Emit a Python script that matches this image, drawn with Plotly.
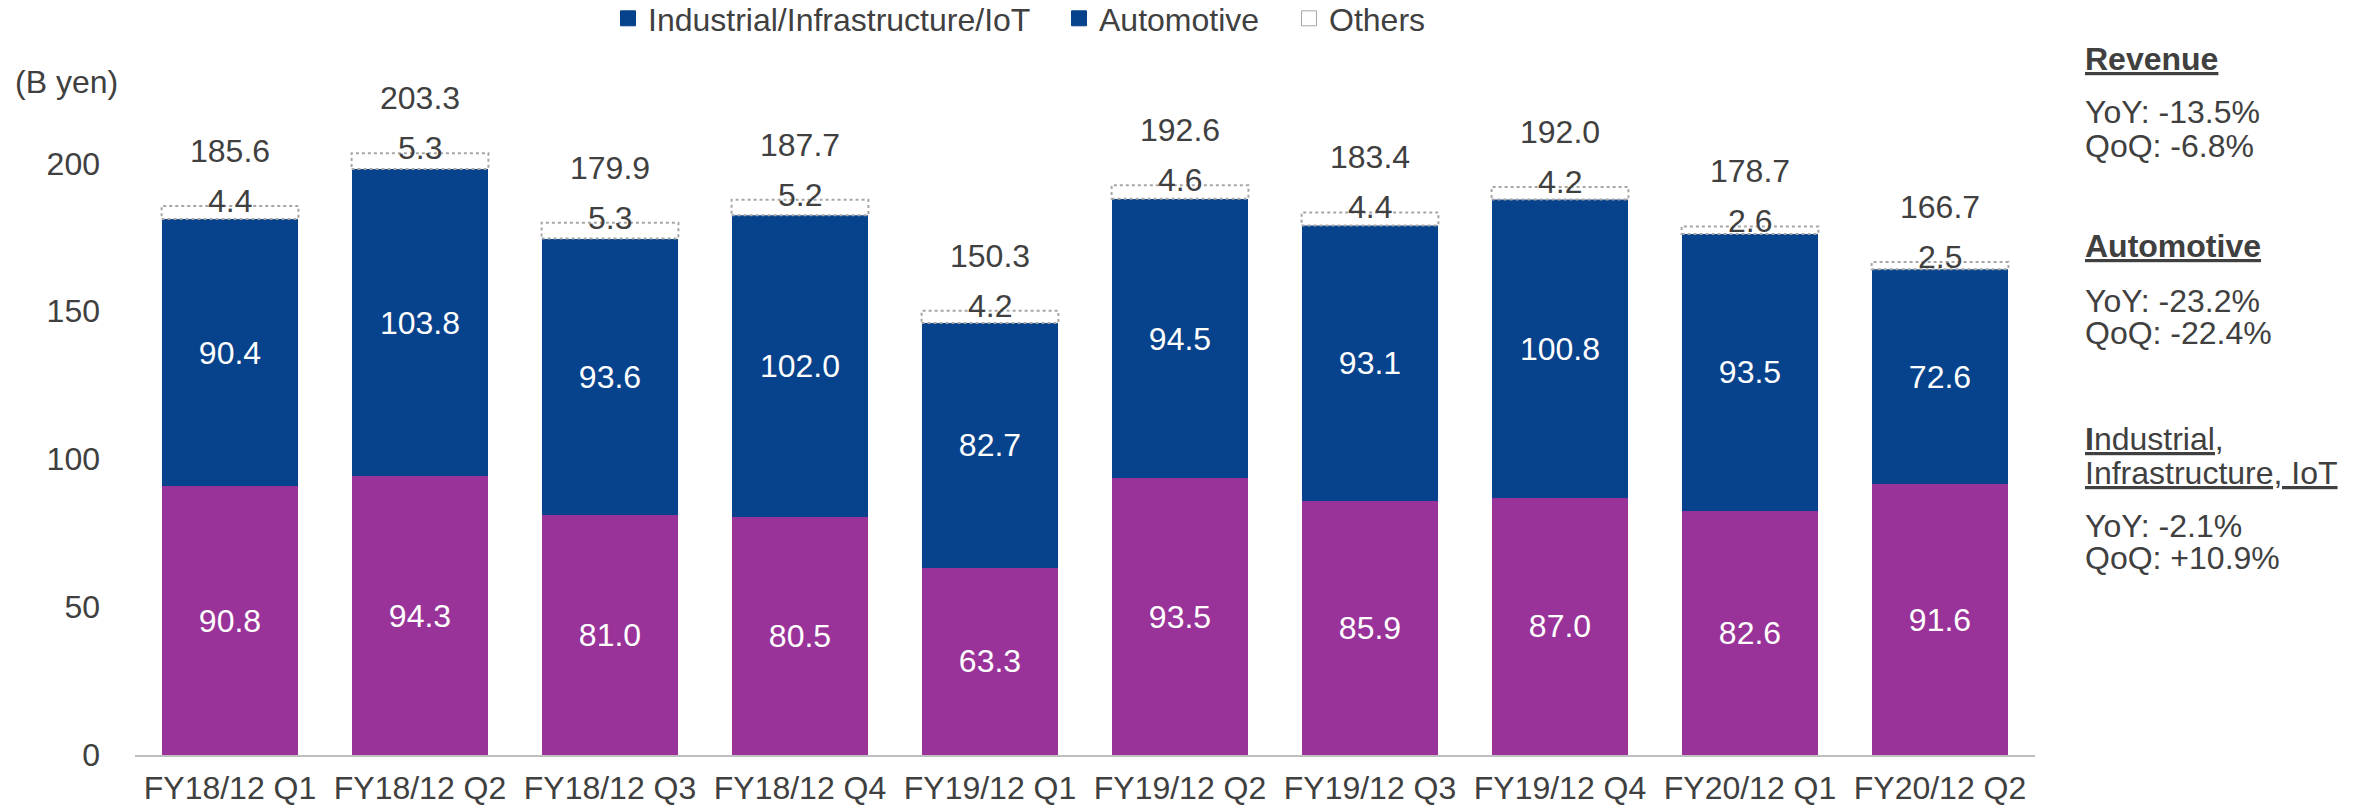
import plotly.graph_objs as go

categories = ["FY18/12 Q1", "FY18/12 Q2", "FY18/12 Q3", "FY18/12 Q4", "FY19/12 Q1",
              "FY19/12 Q2", "FY19/12 Q3", "FY19/12 Q4", "FY20/12 Q1", "FY20/12 Q2"]
industrial = [90.8, 94.3, 81.0, 80.5, 63.3, 93.5, 85.9, 87.0, 82.6, 91.6]
automotive = [90.4, 103.8, 93.6, 102.0, 82.7, 94.5, 93.1, 100.8, 93.5, 72.6]
others = [4.4, 5.3, 5.3, 5.2, 4.2, 4.6, 4.4, 4.2, 2.6, 2.5]
totals = [185.6, 203.3, 179.9, 187.7, 150.3, 192.6, 183.4, 192.0, 178.7, 166.7]

side_texts = ["<b><u>Revenue</u></b>", "YoY: -13.5%", "QoQ: -6.8%",
              "<b><u>Automotive</u></b>", "YoY: -23.2%", "QoQ: -22.4%",
              "<u><b>I</b>ndustrial,</u>", "<u>Infrastructure, IoT</u>", "YoY: -2.1%", "QoQ: +10.9%"]
side_rows = [59, 112, 146, 246, 301, 333, 439, 473, 526, 558]   # pixel rows of the side notes

PURPLE = "#993399"
BLUE = "#07428C"
GREY_TEXT = "#404040"
FONT = "Liberation Sans, Arial, sans-serif"
FS = 32

# plot area in pixels
W, H = 2364, 809
L, R, T, B = 135, 329, 119, 54
plot_h = H - T - B
plot_w = W - L - R


def py(pix):
    return (H - B - pix) / plot_h


def px(pix):
    return (pix - L) / plot_w


stack_base = [a + b for a, b in zip(industrial, automotive)]

fig = go.Figure().add_trace(
    go.Bar(
        x = categories,
        y = industrial,
        name = "Industrial/Infrastructure/IoT",
        marker = {"color": PURPLE, "line": {"width": 0}},
        texttemplate = "%{y:.1f}",
        textposition = "inside",
        insidetextanchor = "middle",
        textangle = 0,
        textfont = {"color": "white", "size": FS, "family": FONT},
        showlegend = False,
    )
).add_trace(
    go.Bar(
        x = categories,
        y = automotive,
        name = "Automotive",
        marker = {"color": BLUE, "line": {"width": 0}},
        texttemplate = "%{y:.1f}",
        textposition = "inside",
        insidetextanchor = "middle",
        textangle = 0,
        textfont = {"color": "white", "size": FS, "family": FONT},
        showlegend = False,
    )
).add_trace(
    go.Bar(
        x = categories,
        y = others,
        name = "Others",
        marker = {"color": "white", "line": {"width": 0}},
        showlegend = False,
    )
)

# legend-only entries (the source legend shows both segments in blue), one legend each
legend_items = [("Industrial/Infrastructure/IoT", BLUE, BLUE, "legend", 608),
                ("Automotive", BLUE, BLUE, "legend2", 1059),
                ("Others", "white", "#A6A6A6", "legend3", 1289)]
for name, color, line, leg, _ in legend_items:
    fig.add_trace(go.Scatter(x = [None], y = [None], name = name, legend = leg, mode = "markers",
                             marker = {"symbol": "square", "size": 15, "color": color,
                                       "line": {"color": line, "width": 1}}))

# dotted outline of the "Others" segment
for cat, base, oth in zip(categories, stack_base, others):
    fig.add_shape(
        type = "rect", xref = "x", yref = "y",
        x0 = cat, x1 = cat, x0shift = -0.36, x1shift = 0.36,
        y0 = base, y1 = base + oth,
        line = {"color": "#A6A6A6", "width": 2, "dash": "dot"},
        fillcolor = "white", layer = "above",
    )

annotations = []
for cat, tot, base, oth in zip(categories, totals, stack_base, others):
    annotations.append({
        "x": cat, "y": base + oth, "xref": "x", "yref": "y",
        "text": f"{tot:.1f}", "showarrow": False, "yanchor": "middle", "yshift": 55,
        "font": {"size": FS, "color": GREY_TEXT, "family": FONT},
    })
    annotations.append({
        "x": cat, "y": base + oth, "xref": "x", "yref": "y",
        "text": f"{oth:.1f}", "showarrow": False, "yanchor": "middle", "yshift": 5,
        "font": {"size": FS, "color": GREY_TEXT, "family": FONT},
    })

for txt, row in zip(side_texts, side_rows):
    annotations.append({
        "x": px(2083), "y": py(row), "xref": "paper", "yref": "paper",
        "text": txt, "showarrow": False, "xanchor": "left", "yanchor": "middle",
        "font": {"size": FS, "color": GREY_TEXT, "family": FONT},
    })

annotations.append({
    "x": px(13), "y": py(82), "xref": "paper", "yref": "paper",
    "text": "(B yen)", "showarrow": False, "xanchor": "left", "yanchor": "middle",
    "font": {"size": FS, "color": GREY_TEXT, "family": FONT},
})


def legend_box(xpix):
    return {
        "orientation": "h",
        "xref": "paper",
        "yref": "paper",
        "x": px(xpix),
        "xanchor": "left",
        "y": py(-9),
        "yanchor": "top",
        "font": {"size": FS, "color": GREY_TEXT, "family": FONT},
        "itemclick": False,
        "bgcolor": "rgba(0,0,0,0)",
    }


fig.update_layout(
    width = W,
    height = H,
    barmode = "stack",
    bargap = 0.28,
    plot_bgcolor = "white",
    paper_bgcolor = "white",
    font = {"family": FONT, "size": FS, "color": GREY_TEXT},
    margin = {"l": L, "r": R, "t": T, "b": B, "pad": 0, "autoexpand": False},
    xaxis = {
        "showgrid": False,
        "showline": True,
        "linecolor": "#BFBFBF",
        "linewidth": 2,
        "ticks": "",
        "automargin": False,
        "ticklabelstandoff": 4,
        "tickfont": {"size": FS, "color": GREY_TEXT},
    },
    yaxis = {
        "range": [0, 215],
        "tickvals": [0, 50, 100, 150, 200],
        "showgrid": False,
        "zeroline": False,
        "showline": False,
        "ticks": "",
        "automargin": False,
        "ticklabelstandoff": 34,
        "tickfont": {"size": FS, "color": GREY_TEXT},
    },
    showlegend = True,
    legend = legend_box(legend_items[0][4]),
    legend2 = legend_box(legend_items[1][4]),
    legend3 = legend_box(legend_items[2][4]),
    annotations = annotations,
    hovermode = False,
)

fig.write_html("out.html", config = {"displayModeBar": False},
               post_script = "document.body.style.margin = '0';")
